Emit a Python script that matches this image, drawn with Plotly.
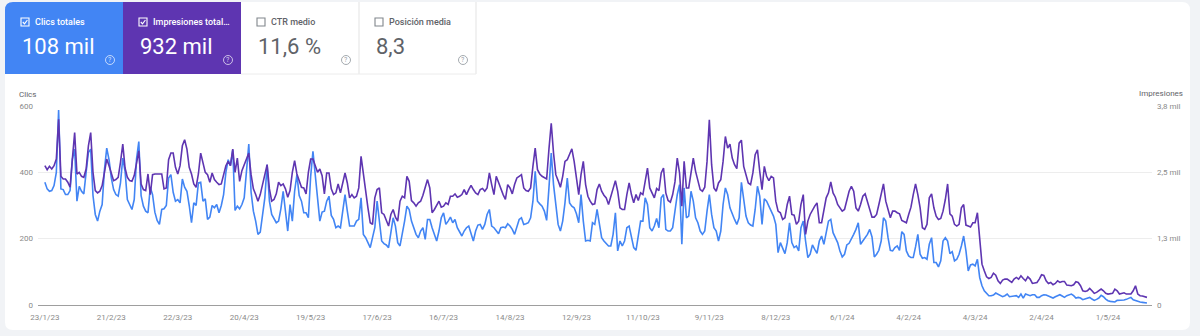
import pandas as pd
import plotly.graph_objects as go

# ---------------- data ----------------
START_DATE = "2023-01-23"

CLICS = [
    370, 350, 343, 345, 360, 400, 588, 350, 348, 333,
    333, 345, 440, 470, 313, 358, 343, 335, 400, 460,
    470, 330, 273, 253, 283, 303, 408, 473, 438, 383,
    348, 333, 328, 368, 443, 403, 318, 300, 288, 318,
    440, 493, 330, 298, 283, 278, 355, 333, 280, 255,
    243, 288, 290, 300, 383, 393, 340, 313, 318, 308,
    380, 355, 343, 300, 248, 308, 300, 368, 370, 313,
    320, 258, 265, 300, 293, 303, 278, 300, 333, 400,
    438, 420, 468, 285, 298, 290, 303, 323, 393, 485,
    340, 283, 253, 213, 220, 280, 323, 423, 313, 273,
    258, 248, 253, 290, 343, 273, 223, 303, 253, 343,
    393, 330, 313, 278, 278, 263, 388, 463, 393, 303,
    253, 280, 283, 313, 328, 270, 258, 233, 238, 233,
    283, 333, 283, 238, 238, 238, 253, 258, 323, 213,
    203, 188, 173, 203, 233, 313, 253, 193, 185, 181,
    173, 213, 263, 238, 188, 178, 213, 253, 298, 288,
    253, 233, 213, 203, 223, 233, 198, 258, 258, 233,
    213, 193, 223, 263, 278, 243, 253, 265, 248, 258,
    233, 218, 208, 223, 233, 238, 213, 193, 223, 241,
    243, 228, 243, 273, 288, 238, 233, 225, 215, 233,
    235, 233, 245, 238, 228, 213, 238, 258, 263, 243,
    245, 248, 263, 313, 403, 313, 305, 298, 283, 255,
    353, 458, 363, 303, 243, 223, 253, 308, 383, 308,
    298, 293, 275, 248, 333, 253, 193, 195, 193, 248,
    243, 288, 238, 203, 193, 185, 178, 178, 213, 278,
    163, 193, 178, 193, 233, 238, 210, 173, 165, 213,
    253, 253, 323, 303, 233, 223, 238, 261, 233, 323,
    333, 228, 223, 223, 233, 283, 333, 363, 183, 353,
    263, 268, 343, 313, 263, 248, 223, 213, 223, 283,
    333, 273, 233, 223, 193, 223, 303, 353, 333, 293,
    273, 258, 243, 263, 370, 313, 268, 248, 241, 238,
    288, 358, 328, 243, 320, 313, 298, 288, 268, 243,
    158, 188, 171, 155, 188, 248, 188, 173, 178, 163,
    233, 253, 193, 143, 153, 181, 168, 156, 193, 208,
    183, 223, 253, 258, 218, 203, 188, 163, 145, 153,
    181, 186, 198, 213, 228, 248, 183, 193, 203, 213,
    228, 205, 145, 153, 165, 193, 263, 253, 203, 165,
    163, 173, 178, 165, 221, 213, 163, 148, 143, 143,
    175, 213, 153, 141, 143, 138, 183, 203, 128, 128,
    115, 133, 193, 203, 193, 155, 161, 133, 138, 153,
    178, 208, 163, 103, 121, 123, 118, 138, 83, 58,
    43, 35, 28, 28, 30, 36, 33, 28, 25, 28,
    33, 25, 25, 27, 28, 23, 33, 21, 33, 30,
    28, 31, 31, 23, 23, 28, 31, 30, 27, 23,
    21, 25, 29, 31, 27, 23, 28, 30, 33, 28,
    21, 23, 21, 16, 18, 20, 23, 18, 14, 17,
    21, 29, 25, 18, 13, 11, 9, 9, 14, 14,
    13, 15, 17, 20, 23, 16, 13, 11, 9, 8,
    8, 6,
]

IMPRESIONES = [
    2625, 2550, 2613, 2563, 2625, 2750, 3500, 2425, 2375, 2375,
    2313, 2219, 2750, 3250, 2469, 2500, 2425, 2406, 2563, 3000,
    3250, 2500, 2156, 2113, 2144, 2250, 2500, 2750, 2625, 2500,
    2344, 2363, 2406, 2688, 3031, 2581, 2406, 2344, 2331, 2438,
    2688, 2906, 2281, 2175, 2156, 2469, 2081, 2456, 2469, 2469,
    2469, 2469, 2188, 2206, 2738, 2863, 2863, 2594, 2469, 2625,
    3000, 3113, 2938, 2594, 2469, 2281, 2219, 2469, 2863, 2688,
    2500, 2456, 2313, 2488, 2363, 2313, 2269, 2281, 2456, 2625,
    2706, 2625, 2938, 2500, 2769, 2331, 2531, 2656, 2781, 2863,
    2456, 2188, 2081, 1956, 2081, 2250, 2438, 2644, 2188, 1956,
    1988, 2094, 2313, 2250, 2281, 2188, 2031, 2156, 2500, 2719,
    2469, 2344, 2219, 2206, 2094, 2500, 2750, 2750, 2613, 2500,
    2563, 2438, 2094, 2488, 2488, 2188, 2081, 2113, 2281, 2113,
    2300, 2488, 2300, 2019, 2081, 2019, 2050, 2206, 2800, 2456,
    2144, 1831, 1550, 1519, 2019, 2175, 2206, 1738, 1706, 1581,
    1488, 1706, 1800, 1656, 1581, 1956, 2050, 2019, 2425, 2331,
    1969, 1925, 1863, 1925, 1956, 2069, 2238, 2363, 2206, 1738,
    1800, 1894, 1956, 1844, 1863, 1925, 1894, 2050, 2050, 2094,
    2031, 2050, 2081, 2175, 2081, 2175, 2256, 2175, 2113, 2081,
    2175, 2194, 2144, 2206, 2488, 2269, 2081, 2425, 2300, 2206,
    2081, 1988, 2269, 2206, 2094, 2269, 2394, 2425, 2456, 2206,
    2156, 2144, 2206, 2613, 2956, 2550, 2469, 2425, 2394, 2375,
    2938, 3425, 2863, 2456, 2344, 2219, 2425, 2706, 2738, 2831,
    2944, 2706, 2394, 2081, 2456, 2706, 2269, 2050, 1956, 1894,
    1906, 2175, 2281, 2144, 2069, 2019, 1894, 2050, 2206, 2344,
    2144, 1831, 1800, 1800, 2081, 2300, 2081, 1925, 2081, 1969,
    2113, 2081, 2331, 2581, 2206, 2113, 2019, 2194, 2156, 2488,
    2581, 2113, 1969, 1938, 2081, 2319, 2769, 2488, 1863, 2706,
    2206, 2206, 2456, 2769, 2519, 2363, 2175, 2144, 2219, 2706,
    3488, 2644, 2206, 2144, 2300, 2363, 2706, 3175, 2956, 3031,
    2769, 2644, 2569, 3050, 3106, 2613, 2469, 2300, 2269, 2488,
    2831, 2925, 2519, 2175, 2613, 2425, 2344, 2425, 2394, 1956,
    1769, 1738, 1613, 1644, 1894, 2050, 1706, 1694, 1519, 1581,
    1894, 2081, 1331, 1581, 1706, 1800, 1863, 1925, 1550, 1550,
    1800, 2019, 2113, 2319, 2113, 2031, 1894, 1819, 1769, 1800,
    1956, 2144, 2238, 2144, 1831, 1769, 1894, 2050, 2094, 1956,
    1800, 1656, 1656, 1706, 1894, 2081, 2281, 1956, 1769, 1644,
    1769, 1769, 1738, 1719, 1594, 1569, 1550, 1706, 1844, 2081,
    2281, 2081, 1831, 1456, 1425, 1519, 2019, 2094, 1831, 1675,
    1613, 1631, 1769, 1988, 2281, 1719, 1675, 1519, 1488, 1519,
    1831, 1894, 1506, 1488, 1469, 1550, 1550, 1738, 1206, 769,
    644, 531, 500, 519, 600, 563, 456, 406, 469, 488,
    488, 456, 425, 488, 519, 488, 550, 500, 456, 531,
    488, 406, 419, 425, 488, 569, 556, 456, 406, 425,
    381, 406, 456, 425, 444, 444, 375, 363, 363, 381,
    438, 425, 363, 269, 256, 269, 313, 269, 219, 238,
    269, 300, 269, 219, 206, 206, 219, 300, 269, 206,
    219, 231, 206, 206, 206, 269, 363, 206, 175, 169,
    156, 144,
]

TICK_DATES = [
    "2023-01-23", "2023-02-21", "2023-03-22", "2023-04-20", "2023-05-19",
    "2023-06-17", "2023-07-16", "2023-08-14", "2023-09-12", "2023-10-11",
    "2023-11-09", "2023-12-08", "2024-01-06", "2024-02-04", "2024-03-04",
    "2024-04-02", "2024-05-01",
]
TICK_LABELS = [
    "23/1/23", "21/2/23", "22/3/23", "20/4/23", "19/5/23",
    "17/6/23", "16/7/23", "14/8/23", "12/9/23", "11/10/23",
    "9/11/23", "8/12/23", "6/1/24", "4/2/24", "4/3/24",
    "2/4/24", "1/5/24",
]
Y_TICKS = [0, 200, 400, 600]
Y_TICK_LABELS = ["0", "200", "400", "600"]
Y2_TICKS = [0, 1250, 2500, 3750]
Y2_TICK_LABELS = ["0", "1,3 mil", "2,5 mil", "3,8 mil"]

CARD_TITLES = ["Clics totales", "Impresiones total…", "CTR medio", "Posición media"]
CARD_VALUES = ["108 mil", "932 mil", "11,6 %", "8,3"]

# ---------------- layout helpers ----------------
W, H = 1200, 336
ML, MR, MT, MB = 38, 48, 106, 31
PW = W - ML - MR
PH = H - MT - MB

BLUE = "#4285f4"
PURPLE = "#5e35b1"
TICK_GREY = "#8a8a8a"
FONT = "Roboto, Arial, sans-serif"


def px(x):
    return (x - ML) / PW


def py(y):
    return (H - MB - y) / PH


def rrect_path(x0, y0, x1, y1, rtl=0, rtr=0, rbr=0, rbl=0):
    pts = []
    def P(x, y):
        return f"{px(x):.5f},{py(y):.5f}"
    pts.append(f"M {P(x0 + rtl, y0)}")
    pts.append(f"L {P(x1 - rtr, y0)}")
    if rtr:
        pts.append(f"Q {P(x1, y0)} {P(x1, y0 + rtr)}")
    pts.append(f"L {P(x1, y1 - rbr)}")
    if rbr:
        pts.append(f"Q {P(x1, y1)} {P(x1 - rbr, y1)}")
    pts.append(f"L {P(x0 + rbl, y1)}")
    if rbl:
        pts.append(f"Q {P(x0, y1)} {P(x0, y1 - rbl)}")
    pts.append(f"L {P(x0, y0 + rtl)}")
    if rtl:
        pts.append(f"Q {P(x0, y0)} {P(x0 + rtl, y0)}")
    pts.append("Z")
    return " ".join(pts)


dates = pd.date_range(START_DATE, periods=len(CLICS), freq="D")
n = min(len(CLICS), len(IMPRESIONES))

fig = go.Figure()
fig.add_trace(go.Scatter(
    x=dates[:n], y=IMPRESIONES[:n], yaxis="y2", mode="lines",
    line=dict(color=PURPLE, width=1.6), name="Impresiones", hoverinfo="skip",
))
fig.add_trace(go.Scatter(
    x=dates[:n], y=CLICS[:n], mode="lines",
    line=dict(color=BLUE, width=1.6), name="Clics", hoverinfo="skip",
))

shapes = []
# white container
shapes.append(dict(type="path", xref="paper", yref="paper", layer="below",
                   path=rrect_path(5, 2, 1190, 330, 8, 8, 8, 8),
                   fillcolor="white", line=dict(width=0)))
# cards
card_x = [5, 123, 241, 359]
card_w = 118
card_fill = [BLUE, PURPLE, "white", "white"]
for i, cx in enumerate(card_x):
    x1 = cx + card_w if i < 3 else 476
    shapes.append(dict(type="path", xref="paper", yref="paper", layer="below",
                       path=rrect_path(cx, 2, x1, 74, 8 if i == 0 else 0),
                       fillcolor=card_fill[i], line=dict(width=0)))
# borders of white cards
for xx in (359, 476):
    shapes.append(dict(type="line", xref="paper", yref="paper", layer="below",
                       x0=px(xx), x1=px(xx), y0=py(2), y1=py(74),
                       line=dict(color="#e3e3e3", width=1)))
shapes.append(dict(type="line", xref="paper", yref="paper", layer="below",
                   x0=px(241), x1=px(476), y0=py(74), y1=py(74),
                   line=dict(color="#ececec", width=1)))

annotations = []
for i, cx in enumerate(card_x):
    on = i < 2
    fg = "white" if on else "#5f6368"
    boxc = "white" if on else "#80868b"
    bx = cx + 16
    shapes.append(dict(type="rect", xref="paper", yref="paper", layer="below",
                       x0=px(bx), x1=px(bx + 8), y0=py(18), y1=py(26),
                       line=dict(color=boxc, width=1.1), fillcolor="rgba(0,0,0,0)"))
    if on:
        shapes.append(dict(type="path", xref="paper", yref="paper", layer="below",
                           path=f"M {px(bx + 1.8):.5f},{py(22):.5f} L {px(bx + 3.5):.5f},{py(23.8):.5f} L {px(bx + 6.4):.5f},{py(20):.5f}",
                           line=dict(color="white", width=1.1)))
    annotations.append(dict(xref="paper", yref="paper", x=px(bx + 12), y=py(22),
                            xanchor="left", yanchor="middle", showarrow=False,
                            text=CARD_TITLES[i],
                            font=dict(family=FONT, size=9, color=fg, weight=500)))
    annotations.append(dict(xref="paper", yref="paper", x=px(cx + 15), y=py(46),
                            xanchor="left", yanchor="middle", showarrow=False,
                            text=CARD_VALUES[i],
                            font=dict(family=FONT, size=22, color=fg)))
    hx = cx + 105 if i < 3 else 463
    hc = "rgba(255,255,255,0.75)" if on else "#9aa0a6"
    shapes.append(dict(type="circle", xref="paper", yref="paper", layer="below",
                       x0=px(hx - 4.5), x1=px(hx + 4.5), y0=py(55.5), y1=py(64.5),
                       line=dict(color=hc, width=0.9), fillcolor="rgba(0,0,0,0)"))
    annotations.append(dict(xref="paper", yref="paper", x=px(hx), y=py(60),
                            xanchor="center", yanchor="middle", showarrow=False,
                            text="?", font=dict(family=FONT, size=7, color=hc)))

annotations.append(dict(xref="paper", yref="paper", x=px(17), y=py(94),
                        xanchor="left", yanchor="middle", showarrow=False,
                        text="Clics", font=dict(family=FONT, size=8, color="#5f6368")))
annotations.append(dict(xref="paper", yref="paper", x=px(1185), y=py(93),
                        xanchor="right", yanchor="middle", showarrow=False,
                        text="Impresiones", font=dict(family=FONT, size=8, color="#5f6368")))

fig.update_layout(
    width=W, height=H,
    margin=dict(l=ML, r=MR, t=MT, b=MB, pad=0),
    paper_bgcolor="#f1f3f6",
    plot_bgcolor="white",
    showlegend=False,
    font=dict(family=FONT, size=8, color=TICK_GREY),
    shapes=shapes,
    annotations=annotations,
    xaxis=dict(
        type="date",
        range=[dates[0] - pd.Timedelta(days=3), dates[n - 1] + pd.Timedelta(days=2.2)],
        tickmode="array", tickvals=TICK_DATES, ticktext=TICK_LABELS,
        showgrid=False, zeroline=False,
        showline=True, linecolor="#9e9e9e", linewidth=1,
        ticks="", tickfont=dict(family=FONT, size=8, color=TICK_GREY),
        ticklabelstandoff=4,
    ),
    yaxis=dict(
        range=[0, 600], tickmode="array", tickvals=Y_TICKS, ticktext=Y_TICK_LABELS,
        showgrid=True, gridcolor="#ededed", gridwidth=1,
        zeroline=False, showline=False, ticks="",
        tickfont=dict(family=FONT, size=8, color=TICK_GREY),
        ticklabelstandoff=4,
    ),
    yaxis2=dict(
        overlaying="y", side="right",
        range=[0, 3750], tickmode="array", tickvals=Y2_TICKS, ticktext=Y2_TICK_LABELS,
        showgrid=False, zeroline=False, showline=False, ticks="",
        tickfont=dict(family=FONT, size=8, color=TICK_GREY),
        ticklabelstandoff=4,
    ),
)

fig.write_html("out.html")
